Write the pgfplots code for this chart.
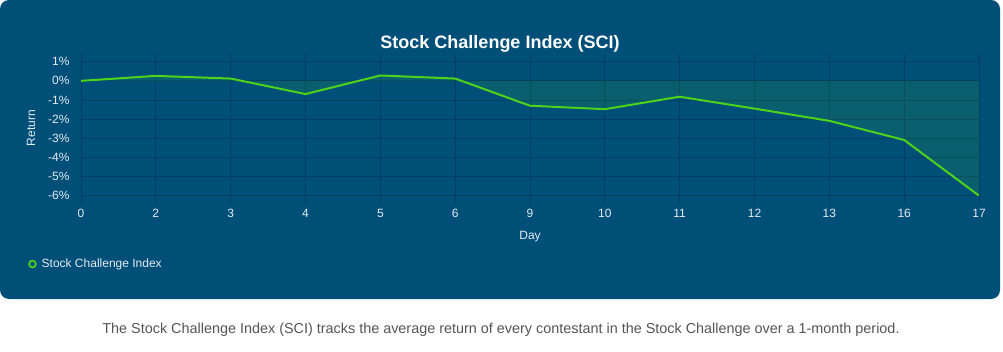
\documentclass[border=0pt]{standalone}
\usepackage{pgfplots}
\pgfplotsset{compat=1.18}
\usepackage{fontspec}
\setmainfont{Liberation Sans}
\definecolor{bg}{RGB}{0,79,121}
\definecolor{gridc}{RGB}{0,62,98}
\definecolor{linec}{RGB}{76,211,26}
\definecolor{capc}{RGB}{85,85,85}
\definecolor{tickc}{RGB}{228,234,240}
\begin{document}
\begin{tikzpicture}
\useasboundingbox (0pt,0pt) rectangle (1003pt,351pt);
\fill[white] (0pt,0pt) rectangle (1003pt,351pt);
\fill[bg, rounded corners=9pt] (0pt,52pt) rectangle (1000pt,351pt);
\begin{axis}[at={(81pt,155.3pt)}, anchor=south west, scale only axis,
  width=898pt, height=134pt,
  xmin=0, xmax=12, ymin=-6, ymax=1,
  xtick={0,...,12}, xticklabels={0,2,3,4,5,6,9,10,11,12,13,16,17},
  ytick={-6,...,1}, yticklabels={-6\%,-5\%,-4\%,-3\%,-2\%,-1\%,0\%,1\%},
  ticklabel style={font=\fontsize{12}{14}\selectfont, text=tickc},
  xticklabel style={yshift=-1.5pt, text height=9pt, text depth=0pt},
  grid=major, grid style={gridc, line width=0.8pt},
  axis line style={gridc, line width=0.9pt},
  tick align=outside, major tick length=8pt,
  x tick style={gridc, line width=0.8pt}, y tick style={draw=none},
  legend style={at={(axis description cs:-0.059,-0.51)}, anchor=west, draw=none, fill=none,
    inner sep=0pt, font=\fontsize{12}{14}\selectfont, text=tickc, legend cell align=left},
  legend image code/.code={\draw[linec, line width=1.7pt, fill=bg] (3.8pt,0) circle (3.4pt);\path (10pt,0);},
]
\addplot[fill=linec, fill opacity=0.12, draw=none, forget plot] coordinates {
(0,0) (1,0.26) (2,0.12) (3,-0.69) (4,0.28) (5,0.12) (6,-1.30) (7,-1.48) (8,-0.83) (9,-1.45) (10,-2.09) (11,-3.09) (12,-6.0)} \closedcycle;
\addplot[linec, line width=2pt, mark=none] coordinates {
(0,0) (1,0.26) (2,0.12) (3,-0.69) (4,0.28) (5,0.12) (6,-1.30) (7,-1.48) (8,-0.83) (9,-1.45) (10,-2.09) (11,-3.09) (12,-6.0)};
\addlegendentry{Stock Challenge Index}
\end{axis}
\node[font=\bfseries\fontsize{18}{21}\selectfont, white] at (500pt,307.5pt) {Stock Challenge Index (SCI)};
\node[rotate=90, font=\fontsize{12}{14}\selectfont, tickc] at (31pt,223pt) {Return};
\node[font=\fontsize{12}{14}\selectfont, tickc] at (530pt,114pt) {Day};
\node[font=\fontsize{14.4}{16}\selectfont, capc] at (501pt,21.5pt) {The Stock Challenge Index (SCI) tracks the average return of every contestant in the Stock Challenge over a 1-month period.};
\end{tikzpicture}
\end{document}
